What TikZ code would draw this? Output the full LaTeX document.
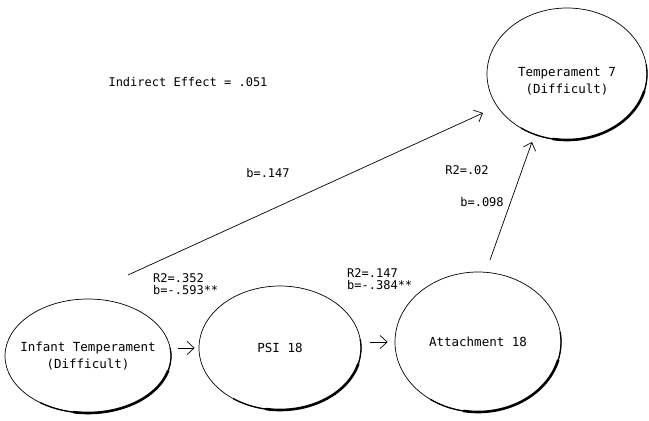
\documentclass[tikz,border=0pt]{standalone}
\usepackage{fontspec}
\setmonofont{DejaVu Sans Mono}
\usetikzlibrary{shapes.geometric,arrows.meta}

\begin{document}
\begin{tikzpicture}
[
x=1pt,y=-1pt,
blob/.style 2 args={draw,ellipse,line width=0.7pt,inner sep=-40pt,
            minimum width=#1,minimum height=#2,align=center,
            font=\ttfamily\fontsize{12.5}{17}\selectfont},
link/.style={-{Straight Barb[length=7pt,width=13pt]},line width=0.7pt},
coef/.style={inner sep=0pt,font=\ttfamily\fontsize{12}{11.5}\selectfont},
rim/.style={line width=#1,line cap=round},
]
\useasboundingbox (0,0) rectangle (649,421);

%Place the nodes
\node[blob={166pt}{114pt}] (a) at (88,356) {Infant Temperament\\(Difficult)};
\node[blob={162pt}{124pt}] (b) at (280,348) {PSI 18};
\node[blob={166pt}{140pt}] (c) at (478,342) {Attachment 18};
\node[blob={160pt}{132pt}] (d) at (567,74) {\raisebox{-8pt}[\height][\depth]{\begin{tabular}{@{}c@{}}Temperament 7\\(Difficult)\end{tabular}}};
\coordinate (p) at (128,275);
\coordinate (q) at (483,113);
\coordinate (r) at (490,260);
\coordinate (s) at (532,142);
%Place the labels
\node[coef] (ie) at (188,82) {Indirect Effect = .051};
\node[coef] (bd) at (268,173) {b=.147};
\node[coef] (rt) at (467,170) {R2=.02};
\node[coef] (bt) at (482,202) {b=.098};
\node[coef,anchor=west,align=left] (ab) at (153,284) {R2=.352\\b=-.593**};
\node[coef,anchor=west,align=left] (bc) at (347,279) {R2=.147\\b=-.384**};

%Draw the connections
\draw[link,shorten <=7pt,shorten >=4pt] (a.east |- b.west) -- (b.west);
\draw[link,shorten <=9pt,shorten >=7pt] (b.east |- c.west) -- (c.west);
\draw[link] (p) -- (q);
\draw[link] (r) -- (s);
%Heavy lower rims
\foreach \n/\rx/\ry in {a/83/57,b/81/62,c/83/70,d/80/66}
{
\draw[rim=1.3pt] (\n.center) ++(-125:\rx pt and \ry pt) arc[start angle=-125,end angle=8,x radius=\rx pt,y radius=\ry pt];
\draw[rim=2.6pt] (\n.center) ++(-100:\rx pt and \ry pt) arc[start angle=-100,end angle=-15,x radius=\rx pt,y radius=\ry pt];
}
\end{tikzpicture}
\end{document}
